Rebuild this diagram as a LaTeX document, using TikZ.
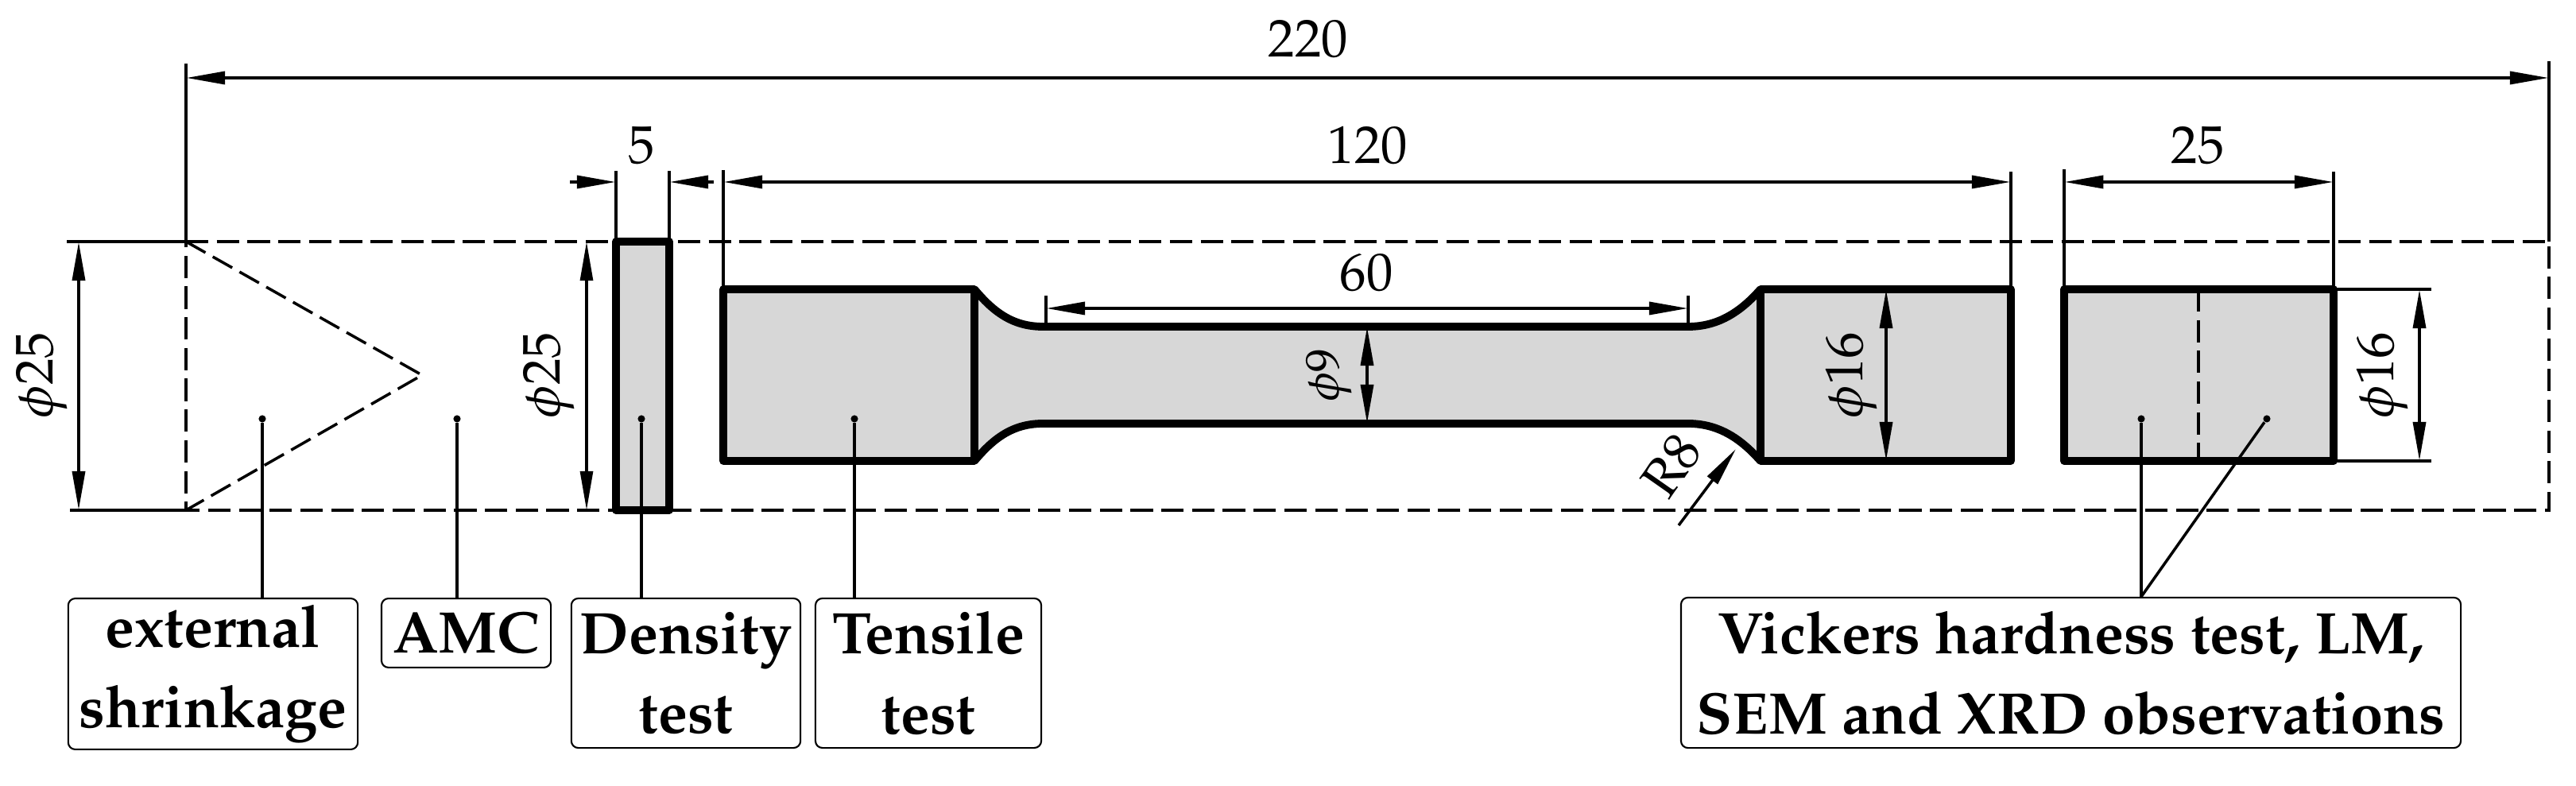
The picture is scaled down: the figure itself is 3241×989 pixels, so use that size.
\documentclass[tikz,border=0pt]{standalone}
\usepackage[T1]{fontenc}
\usepackage{mathpazo}
\usetikzlibrary{arrows.meta}
\definecolor{specimengray}{HTML}{D7D7D7}
\tikzset{
	>={Stealth[length=14pt,width=4.5pt,inset=0pt]},
	dimline/.style={line width=1.2pt},
	thinline/.style={line width=1pt},
	hidden/.style={line width=1pt,dash pattern=on 8pt off 3pt},
	outline/.style={line width=2.8pt,line join=round},
	dimtext/.style={inner sep=0pt,font=\fontsize{19}{19}\selectfont},
	labelbox/.style={draw,line width=0.6pt,rounded corners=2.5pt,inner sep=0pt,align=center,font=\fontsize{21}{28.6}\selectfont\bfseries},
	leaderdot/.style={circle,fill,inner sep=0pt,minimum size=2.6pt}
}
\begin{document}
\begin{tikzpicture}[x=0.01cm,y=-0.01cm]
		\useasboundingbox (0,0) rectangle (3241,989);
		%casting outline
			\draw [hidden] (234,304) -- (3207,304) -- (3207,642) -- (234,642) -- cycle;
			\draw [hidden] (234,304) -- (531,472) -- (234,642);
			\draw [thinline] (84,304) -- (234,304);
			\draw [thinline] (88,642) -- (234,642);
		%density disc
			\draw [outline,fill=specimengray] (775,304) rectangle (842,642);
		%tensile bar
			\draw [outline,fill=specimengray] (910,364) -- (1226,364) .. controls (1248,390) and (1272,411) .. (1312,411) -- (2124,411) .. controls (2164,411) and (2192,390) .. (2215,364) -- (2530,364) -- (2530,580) -- (2215,580) .. controls (2192,554) and (2164,533) .. (2124,533) -- (1312,533) .. controls (1272,533) and (1248,554) .. (1226,580) -- (910,580) -- cycle;
			\draw [outline] (1226,364) -- (1226,580);
			\draw [outline] (2215,364) -- (2215,580);
		%last block
			\draw [outline,fill=specimengray] (2597,364) rectangle (2936,580);
			\draw [hidden] (2766,364) -- (2766,580);
		%extension lines
			\draw [thinline] (234,80) -- (234,304);
			\draw [thinline] (3207,77) -- (3207,304);
			\foreach \x/\y in {775/215,842/215,910/214,2530/216,2597/213,2936/216}
				\draw [thinline] (\x,\y) -- (\x,304);
			\draw [thinline] (910,304) -- (910,364);
			\draw [thinline] (2530,304) -- (2530,364);
			\draw [thinline] (2597,304) -- (2597,364);
			\draw [thinline] (2936,304) -- (2936,364);
			\draw [thinline] (2936,364) -- (3059,364);
			\draw [thinline] (2936,580) -- (3059,580);
			\draw [thinline] (1316,372) -- (1316,411);
			\draw [thinline] (2124,372) -- (2124,411);
		%dimensions
			\draw [dimline,<->] (234,98) -- (3207,98);
			\draw [dimline,->] (717,229) -- (775,229);
			\draw [dimline,->] (898,229) -- (842,229);
			\draw [dimline,<->] (910,229) -- (2530,229);
			\draw [dimline,<->] (2597,229) -- (2936,229);
			\draw [dimline,<->] (1316,388) -- (2124,388);
			\draw [dimline,<->] (99,304) -- (99,642);
			\draw [thinline,<->] (738,304) -- (738,642);
			\draw [dimline,<->] (1720,411) -- (1720,533);
			\draw [dimline,<->] (2373,364) -- (2373,580);
			\draw [dimline,<->] (3044,364) -- (3044,580);
			\draw [thinline,->] (2112,661) -- (2184,565);
		%dimension text
			\node [dimtext] (len220) at (1646,49) {220};
			\node [dimtext] (len5) at (807,183) {5};
			\node [dimtext] (len120) at (1721,183) {120};
			\node [dimtext] (len25) at (2765,183) {25};
			\node [dimtext] (len60) at (1719,343) {60};
			\node [dimtext,rotate=90] (dia25a) at (53,472) {$\phi$25};
			\node [dimtext,rotate=90] (dia25b) at (691,472) {$\phi$25};
			\node [dimtext,rotate=90,font=\fontsize{17}{17}\selectfont] (dia9) at (1672,472) {$\phi$9};
			\node [dimtext,rotate=90] (dia16a) at (2330,472) {$\phi$16};
			\node [dimtext,rotate=90] (dia16b) at (2998,472) {$\phi$16};
			\node [dimtext,rotate=55] (rad8) at (2103,586) {R8};
		%labels
			\node [labelbox,minimum width=103.6pt,minimum height=54pt] (shrink) at (268,848) {external\\shrinkage};
			\node [labelbox,minimum width=60.6pt,minimum height=24.7pt] (amc) at (586.5,796.5) {AMC};
			\node [labelbox,minimum width=82pt,minimum height=53.5pt] (density) at (863,847) {Density\\test};
			\node [labelbox,minimum width=80.8pt,minimum height=53.5pt] (tensile) at (1168,847) {Tensile\\test};
			\node [labelbox,minimum width=279pt,minimum height=53.8pt] (vickers) at (2605.5,846.5) {Vickers hardness test, LM,\\SEM and XRD observations};
		%leaders
			\foreach \n/\x in {dotshrink/330,dotamc/575,dotdensity/807,dottensile/1075,dotleft/2694,dotright/2852}
				\node [leaderdot] (\n) at (\x,527) {};
			\draw [thinline] (dotshrink) -- (dotshrink |- shrink.north);
			\draw [thinline] (dotamc) -- (dotamc |- amc.north);
			\draw [thinline] (dotdensity) -- (dotdensity |- density.north);
			\draw [thinline] (dottensile) -- (dottensile |- tensile.north);
			\draw [thinline] (dotleft) -- (dotleft |- vickers.north);
			\draw [thinline] (dotright) -- (dotleft |- vickers.north);
	\end{tikzpicture}
\end{document}
